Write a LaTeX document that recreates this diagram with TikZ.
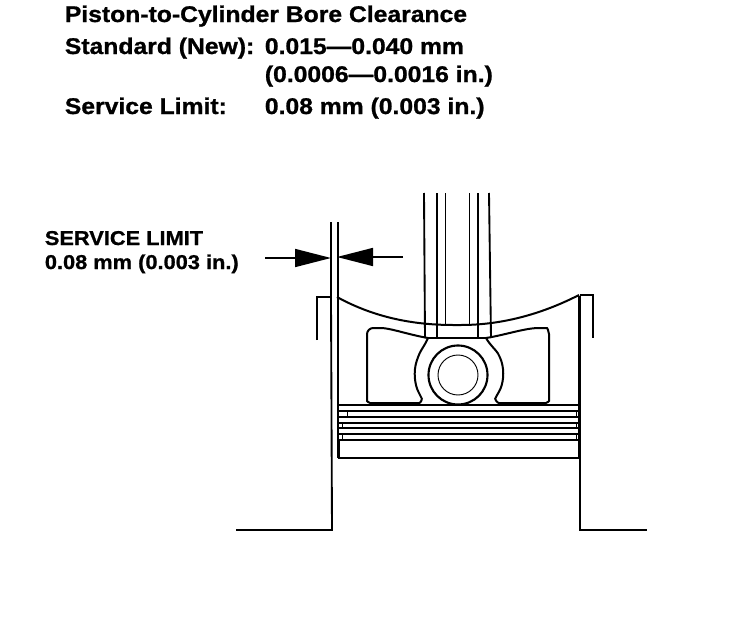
\documentclass[tikz,border=0pt]{standalone}
\usepackage{fontspec}
\setmainfont{Liberation Sans}[BoldFeatures={FakeStretch=1.09,FakeBold=1}]
\usetikzlibrary{arrows.meta}
\begin{document}
\begin{tikzpicture}[
        x=0.75pt,
        y=-0.75pt,
        line width=1.3pt,
        font=\bfseries
    ]
    \tikzset{
        headtext/.style = {anchor=base west, inner sep=0pt, font=\bfseries\fontsize{17}{19}\selectfont},
        dimtext/.style = {anchor=base west, inner sep=0pt, font=\bfseries\fontsize{15}{17}\selectfont},
        wall/.style = {line width=1.4pt},
        medium/.style = {line width=1pt},
        fine/.style = {line width=0.7pt},
        part/.style = {line width=1.5pt, rounded corners=3pt},
        dimline/.style = {line width=1.2pt, -{Triangle[length=27pt,width=13.5pt]}},
    }
    \useasboundingbox (0,0) rectangle (736,628);
    % heading
    \node[headtext] at (64,22) (title) {Piston-to-Cylinder Bore Clearance};
    \node[headtext] at (64,54) (std) {Standard (New):};
    \node[headtext] at (264,54) (stdmm) {0.015---0.040 mm};
    \node[headtext] at (264,82) (stdin) {(0.0006---0.0016 in.)};
    \node[headtext] at (64,114) (lim) {Service Limit:};
    \node[headtext] at (264,114) (limval) {0.08 mm (0.003 in.)};
    % dimension
    \node[dimtext] at (44,245) (dima) {SERVICE LIMIT};
    \node[dimtext] at (44,269) (dimb) {0.08 mm (0.003 in.)};
    \coordinate (la) at (265,258);
    \coordinate (lb) at (331,258);
    \coordinate (ra) at (403,257);
    \coordinate (rb) at (337,257);
    \draw[dimline] (la) -- (lb);
    \draw[dimline] (ra) -- (rb);
    % cylinder walls
    \draw[wall] (331,222) -- (331,300) -- (332,530) -- (236,530);
    \draw[wall] (580,296) -- (580,530) -- (647,530);
    \draw[wall] (317,340) -- (317,297) -- (331,297);
    \draw[wall] (580,295) -- (593,295) -- (593,338);
    % piston sides
    \draw[wall] (338,222) -- (338,458);
    \draw[wall] (579,296) -- (579,458);
    % crown
    \draw[part] (337,297) .. controls (375,318) and (415,325) .. (457,325)
        .. controls (500,325) and (540,315) .. (579,295);
    % connecting rod
    \draw[wall] (424,193) -- (425,338);
    \draw[wall] (489,193) -- (491,338);
    \draw[medium] (437,193) -- (437,338);
    \draw[medium] (478,193) -- (478,338);
    \draw[fine] (445,193) -- (445,324);
    \draw[fine] (469,193) -- (469,324);
    \draw[wall] (428,338) -- (486,338);
    % pockets
    \draw[part] (428,338) .. controls (410,335) and (390,328) .. (377,328)
        .. controls (370,328) and (367,331) .. (367,338)
        -- (367,397) .. controls (367,401) and (369,403) .. (374,403)
        -- (415,403) .. controls (421,403) and (422,399) .. (420,395)
        .. controls (415,385) and (413,372) .. (418,357)
        .. controls (421,350) and (425,345) .. (428,338);
    \draw[part] (486,338) .. controls (505,335) and (525,328) .. (543,328)
        .. controls (547,328) and (549,331) .. (549,338)
        -- (549,397) .. controls (549,401) and (547,403) .. (542,403)
        -- (503,403) .. controls (497,403) and (495,399) .. (497,395)
        .. controls (503,385) and (505,372) .. (500,357)
        .. controls (496,350) and (490,345) .. (486,338);
    % pin
    \draw[wall, line width=1.6pt] (458,375) circle (29.5);
    \draw[fine] (458,375) circle (20);
    % ring lands
    \draw[wall] (338,405) -- (579,405);
    \draw[wall] (338,405) rectangle (579,411);
    \draw[wall] (338,417) rectangle (579,423);
    \draw[wall] (338,428) rectangle (579,434);
    \draw[wall] (339,440) rectangle (579,458);
    \draw[fine] (347,411) -- (347,417);
    \draw[fine] (342,423) -- (342,428);
    \draw[fine] (342,434) -- (342,440);
    \draw[fine] (576,411) -- (576,417);
    \draw[fine] (576,423) -- (576,428);
    \draw[fine] (576,434) -- (576,440);
\end{tikzpicture}
\end{document}
